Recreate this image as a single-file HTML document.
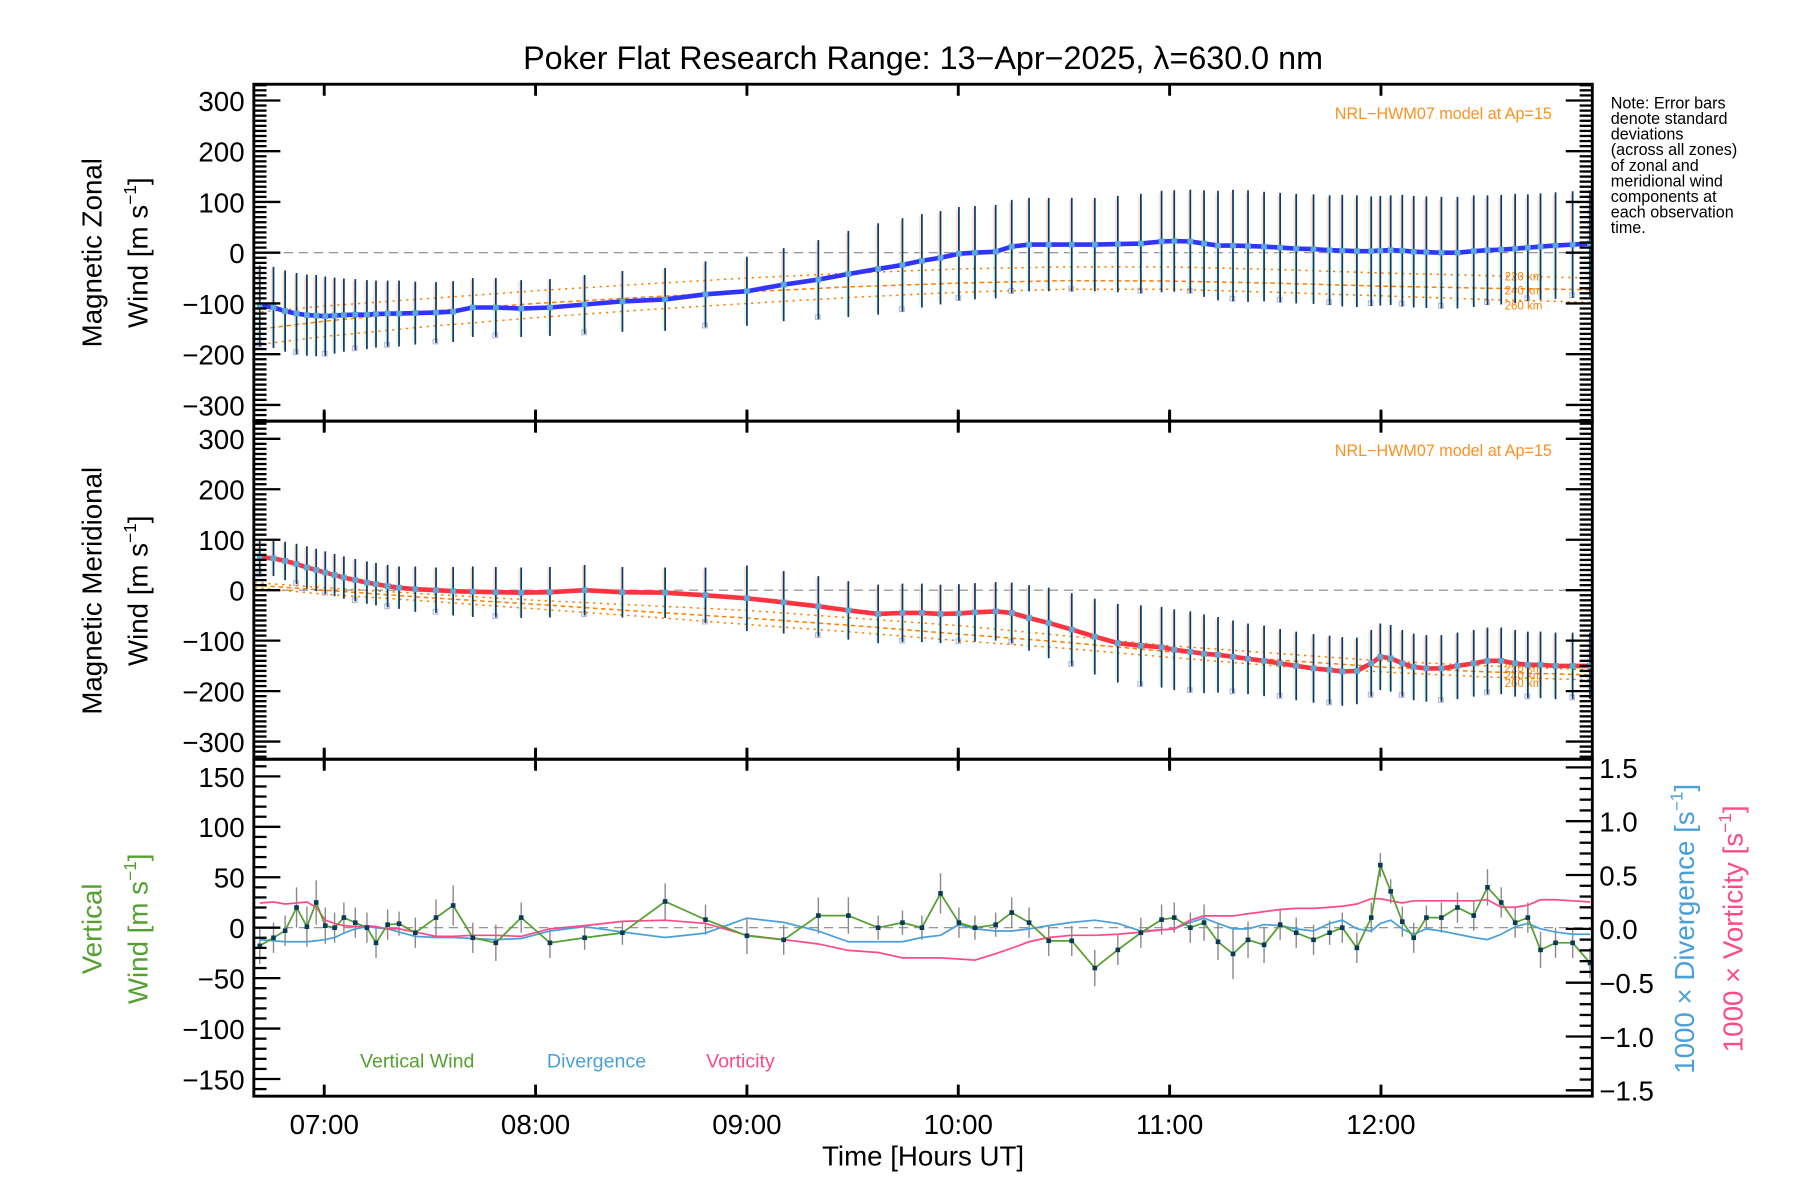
<!DOCTYPE html>
<html><head><meta charset="utf-8"><style>
html,body{margin:0;padding:0;background:#fff}
svg{display:block}
text{font-family:"Liberation Sans",sans-serif}
</style></head><body>
<svg id="chart" width="1800" height="1200" viewBox="0 0 1560 1040" preserveAspectRatio="none" xmlns="http://www.w3.org/2000/svg">
<text x="800" y="60" font-size="28" text-anchor="middle">Poker Flat Research Range: 13−Apr−2025, λ=630.0 nm</text>
<text font-size="14" x="1396" y="94"><tspan x="1396" dy="0">Note: Error bars</tspan><tspan x="1396" dy="13.5">denote standard</tspan><tspan x="1396" dy="13.5">deviations</tspan><tspan x="1396" dy="13.5">(across all zones)</tspan><tspan x="1396" dy="13.5">of zonal and</tspan><tspan x="1396" dy="13.5">meridional wind</tspan><tspan x="1396" dy="13.5">components at</tspan><tspan x="1396" dy="13.5">each observation</tspan><tspan x="1396" dy="13.5">time.</tspan></text>
<g id="layer"></g>
</svg>
<script>
// observation times (decimal hours UT)
const obsTimes=[6.695,6.760,6.815,6.869,6.918,6.962,7.005,7.049,7.093,7.147,7.202,7.245,7.300,7.354,7.431,7.529,7.610,7.703,7.812,7.932,8.068,8.232,8.411,8.613,8.804,9.000,9.174,9.338,9.480,9.621,9.736,9.828,9.916,10.003,10.079,10.177,10.253,10.335,10.428,10.537,10.646,10.755,10.864,10.962,11.022,11.098,11.163,11.229,11.300,11.371,11.447,11.523,11.599,11.681,11.757,11.817,11.886,11.954,11.997,12.046,12.101,12.155,12.215,12.286,12.362,12.439,12.504,12.569,12.635,12.695,12.755,12.826,12.907,12.989];
const zonal=[-105,-108,-115,-120,-123,-124,-125,-124,-123,-122,-122,-121,-120,-120,-119,-118,-116,-108,-108,-110,-108,-102,-96,-92,-82,-76,-63,-53,-42,-32,-24,-16,-10,-2,0,2,12,16,16,16,16,17,18,22,23,22,18,14,14,13,12,10,8,7,5,4,3,3,4,5,4,2,1,0,0,3,5,6,8,10,12,14,16,18];
const zonalErr=[80,80,80,80,80,80,78,75,72,70,68,66,65,65,62,60,60,58,58,56,56,58,60,62,65,68,72,78,85,90,92,92,92,92,92,92,92,92,92,92,92,95,98,100,100,102,105,108,110,110,108,108,108,108,108,110,110,108,108,108,110,110,110,110,110,110,108,108,108,105,105,105,105,105];
const merid=[65,63,58,52,45,40,35,30,25,20,15,12,8,5,2,0,-2,-3,-4,-5,-4,0,-4,-5,-10,-16,-24,-32,-40,-47,-45,-45,-47,-46,-44,-42,-45,-55,-65,-78,-92,-105,-110,-113,-118,-122,-126,-128,-132,-136,-140,-145,-150,-155,-158,-161,-160,-145,-132,-135,-145,-152,-155,-155,-150,-145,-140,-140,-145,-148,-148,-150,-150,-150];
const meridErr=[35,35,38,40,42,42,42,42,42,42,42,42,42,42,45,45,48,50,50,50,50,50,50,50,55,65,62,60,58,58,58,58,58,58,58,58,60,65,70,72,75,78,80,80,80,80,78,75,72,70,70,68,68,68,68,68,66,66,66,66,66,66,66,66,66,66,66,66,66,66,66,66,66,66];
const vert=[-18,-10,-3,20,1,25,2,0,10,5,0,-15,3,4,-5,10,22,-10,-15,10,-15,-10,-5,26,8,-8,-12,12,12,0,5,0,34,5,0,3,15,5,-13,-13,-40,-22,-5,8,10,0,5,-14,-26,-12,-17,3,-5,-12,-5,0,-20,10,62,36,6,-10,10,10,20,12,40,25,5,10,-22,-15,-15,-35];
const vertErr=[18,15,15,20,20,22,18,15,15,15,15,15,15,12,15,18,20,15,18,15,15,12,12,18,15,18,15,18,18,12,12,12,20,15,12,12,15,15,15,15,18,15,15,15,15,15,18,18,25,18,18,15,15,15,12,15,15,15,12,12,15,15,12,15,15,15,18,15,15,15,18,15,15,15];
const diverg=[-0.1,-0.11,-0.12,-0.12,-0.12,-0.11,-0.1,-0.08,-0.04,0,0.02,0.01,0,-0.03,-0.07,-0.08,-0.08,-0.09,-0.1,-0.09,-0.02,0.02,-0.03,-0.08,-0.04,0.1,0.06,-0.02,-0.12,-0.12,-0.12,-0.08,-0.06,0.04,0,-0.02,-0.02,0,0.03,0.06,0.08,0.05,-0.02,-0.01,0,0.06,0.1,0.05,0,0,0.04,0.03,0,-0.02,0.05,0.08,0,-0.02,0.05,0.08,0,-0.05,0,-0.02,-0.05,-0.08,-0.1,-0.05,0.02,0.05,0,-0.03,-0.05,-0.05];
const vortic=[0.24,0.25,0.23,0.24,0.25,0.2,0.08,0.05,0.03,0.02,0.03,0.02,0,0,-0.03,-0.07,-0.07,-0.06,-0.06,-0.07,0,0.03,0.07,0.08,0.05,-0.06,-0.1,-0.14,-0.2,-0.22,-0.27,-0.27,-0.27,-0.28,-0.29,-0.23,-0.18,-0.12,-0.08,-0.06,-0.06,-0.05,-0.03,-0.01,0,0.08,0.12,0.12,0.12,0.14,0.16,0.18,0.19,0.19,0.2,0.21,0.23,0.28,0.28,0.26,0.24,0.26,0.26,0.26,0.26,0.26,0.27,0.2,0.2,0.22,0.27,0.27,0.26,0.25];
const modelTimes=[6.67,7,7.5,8,8.5,9,9.5,10,10.5,11,11.5,12,12.5,13];
const zonal220=[-118,-105,-90,-75,-62,-50,-40,-32,-28,-28,-33,-40,-45,-50];
const zonal240=[-152,-135,-115,-100,-88,-77,-67,-60,-55,-56,-60,-66,-70,-73];
const zonal260=[-182,-165,-145,-128,-113,-100,-88,-78,-72,-72,-78,-85,-92,-98];
const merid220=[15,5,-8,-20,-30,-40,-55,-70,-90,-110,-125,-140,-150,-158];
const merid240=[10,0,-15,-28,-42,-55,-70,-87,-103,-122,-138,-152,-162,-168];
const merid260=[5,-8,-22,-37,-52,-68,-83,-100,-115,-133,-150,-162,-172,-178];
const hourTicks=[7,8,9,10,11,12];
const hourLabels=["07:00","08:00","09:00","10:00","11:00","12:00"];
const windTicks=[-300,-200,-100,0,100,200,300];
const vertTicks=[-150,-100,-50,0,50,100,150];
const rightTicks=[-1.5,-1.0,-0.5,0.0,0.5,1.0,1.5];

const NS='http://www.w3.org/2000/svg';
const L=document.getElementById('layer');
function el(tag,attrs,parent){const e=document.createElementNS(NS,tag);for(const k in attrs)e.setAttribute(k,attrs[k]);(parent||L).appendChild(e);return e;}
const X0=220,X1=1380,T0=6.667,T1=13.0;
const xS=t=>X0+(t-T0)/(T1-T0)*(X1-X0);
const P=[{top:73,bot:365,min:-332,max:332},{top:365,bot:658,min:-335,max:335},{top:658,bot:950,min:-167,max:167}];
const yS=(p,v)=>p.bot-(v-p.min)/(p.max-p.min)*(p.bot-p.top);
const rS=r=>805-r*93.3;
function pts(ts,vs,f){return ts.map((t,i)=>xS(t).toFixed(1)+','+f(vs[i]).toFixed(1)).join(' ');}

// ---------- panels 1 & 2 ----------
[[0,zonal,zonalErr,[zonal220,zonal240,zonal260],'#3333ff','zonal'],[1,merid,meridErr,[merid220,merid240,merid260],'#ff3340','meridional']].forEach(([pi,vals,errs,models,col,nm])=>{
  const p=P[pi];
  const g=el('g',{});
  
  
  const z=el('line',{x1:X0,x2:X1,y1:yS(p,0),y2:yS(p,0),stroke:'#888','stroke-dasharray':'8,5','stroke-width':1},g);
  
  
  obsTimes.forEach((t,i)=>{
    const x=xS(t);
    const top=yS(p,vals[i]+errs[i]*0.95),bot=yS(p,vals[i]-errs[i]*0.95);
    const r1=el('rect',{x:x-2.5,y:top,width:3,height:(bot-top)*0.55,fill:'#ffd0c0',opacity:0.6},g);
    
    
    const r2=el('rect',{x:x-2.5,y:top+(bot-top)*0.55,width:3,height:(bot-top)*0.45,fill:'#dcf5d4',opacity:0.7},g);
    
    
    if(i%3===0){
      const sq=el('rect',{x:x-2.5,y:bot-2,width:4,height:4,fill:'none',stroke:'#b8b8e0','stroke-width':1},g);
      
      
    }
  });
  const mdash=['2,4','4,3','2,4'];
  models.forEach((m,k)=>{
    const pl=el('polyline',{points:pts(modelTimes,m,v=>yS(p,v)),fill:'none',stroke:'#ff8000','stroke-width':1.3,'stroke-dasharray':mdash[k]},g);
    
    
    const lab=el('text',{x:1304,y:yS(p,m[m.length-1])+(k-1)*2+4,'font-size':10,fill:'#ff8000'},g);
    lab.textContent=['220','240','260'][k]+' km';
    
    
  });
  obsTimes.forEach((t,i)=>{
    const x=xS(t);
    const b=el('line',{x1:x,x2:x,y1:yS(p,vals[i]+errs[i]),y2:yS(p,vals[i]-errs[i]),stroke:'#0a3a6a','stroke-width':1.5},g);
    
    
  });
  const ln=el('polyline',{points:pts(obsTimes,vals,v=>yS(p,v)),fill:'none',stroke:col,'stroke-width':4,'stroke-linejoin':'round'},g);
  
  
  obsTimes.forEach((t,i)=>{
    const d=el('rect',{x:xS(t)-2.5,y:yS(p,vals[i])-2.5,width:5,height:5,fill:'#5aaad8'},g);
    
    
  });
  const mt=el('text',{x:1345,y:p.top+30,'font-size':14,fill:'#ff9020','text-anchor':'end'},g);
  mt.textContent='NRL−HWM07 model at Ap=15';
  
  
  for(let v=-330;v<=330;v+=10){
    if(v<p.min||v>p.max)continue;
    const y=yS(p,v),len=(v%100===0)?23:11;
    const a=el('line',{x1:X0,x2:X0+len,y1:y,y2:y,stroke:'#000','stroke-width':2},g);
    
    
    const b=el('line',{x1:X1,x2:X1-len,y1:y,y2:y,stroke:'#000','stroke-width':2},g);
    
    
  }
  windTicks.forEach(v=>{
    const tx=el('text',{x:212,y:yS(p,v)+9,'font-size':24,'text-anchor':'end'},g);
    tx.textContent=v<0?'−'+(-v):String(v);
    
    
  });
});
function vtext(x,y,txt,col,name,size){const t=el('text',{x:x,y:y,'font-size':size||24,'text-anchor':'middle',fill:col,transform:'rotate(-90 '+x+' '+y+')'});t.innerHTML=txt;return t;}
vtext(88,219,'Magnetic Zonal','#000','zonal-y-title');
vtext(128,219,'Wind [m s<tspan font-size="15" dy="-10">−1</tspan><tspan dy="10">]</tspan>','#000','zonal-y-units');
vtext(88,512,'Magnetic Meridional','#000','meridional-y-title');
vtext(128,512,'Wind [m s<tspan font-size="15" dy="-10">−1</tspan><tspan dy="10">]</tspan>','#000','meridional-y-units');

// ---------- panel 3 ----------
(function(){
  const p=P[2];
  const g=el('g',{});
  
  
  const z=el('line',{x1:X0,x2:X1,y1:yS(p,0),y2:yS(p,0),stroke:'#888','stroke-dasharray':'8,5','stroke-width':1},g);
  
  
  obsTimes.forEach((t,i)=>{
    const x=xS(t);
    const b=el('line',{x1:x,x2:x,y1:yS(p,vert[i]+vertErr[i]),y2:yS(p,vert[i]-vertErr[i]),stroke:'#888','stroke-width':1.2},g);
    
    
  });
  const dv=el('polyline',{points:pts(obsTimes,diverg,rS),fill:'none',stroke:'#4aa0d8','stroke-width':1.5},g);
  
  
  const vo=el('polyline',{points:pts(obsTimes,vortic,rS),fill:'none',stroke:'#ff4a88','stroke-width':1.5},g);
  
  
  const vw=el('polyline',{points:pts(obsTimes,vert,v=>yS(p,v)),fill:'none',stroke:'#55a030','stroke-width':1.5},g);
  
  
  obsTimes.forEach((t,i)=>{
    const d=el('rect',{x:xS(t)-2,y:yS(p,vert[i])-2,width:4,height:4,fill:'#0a3a5a'},g);
    
    
  });
  for(let v=-160;v<=160;v+=10){
    const y=yS(p,v),len=(v%50===0)?23:11;
    const a=el('line',{x1:X0,x2:X0+len,y1:y,y2:y,stroke:'#000','stroke-width':2},g);
    
    
  }
  for(let k=-15;k<=15;k++){
    const r=k/10,y=rS(r);
    if(y<p.top||y>p.bot)continue;
    const len=(k%5===0)?23:11;
    const a=el('line',{x1:X1,x2:X1-len,y1:y,y2:y,stroke:'#000','stroke-width':2},g);
    
    
  }
  vertTicks.forEach(v=>{
    const tx=el('text',{x:212,y:yS(p,v)+9,'font-size':24,'text-anchor':'end'},g);
    tx.textContent=v<0?'−'+(-v):String(v);
    
    
  });
  rightTicks.forEach(r=>{
    const tx=el('text',{x:1386,y:rS(r)+9,'font-size':24},g);
    tx.textContent=(r<0?'−':'')+Math.abs(r).toFixed(1);
    
    
  });
  [['Vertical Wind','#55a030',312],['Divergence','#4aa0d8',474],['Vorticity','#ff4a88',612]].forEach(([s,c,x])=>{
    const t=el('text',{x:x,y:925,'font-size':17,fill:c},g);
    t.textContent=s;
    
    
  });
})();
vtext(88,805,'Vertical','#55a030','vertical-y-title');
vtext(128,805,'Wind [m s<tspan font-size="15" dy="-10">−1</tspan><tspan dy="10">]</tspan>','#55a030','vertical-y-units');
vtext(1468,805,'1000 × Divergence [s<tspan font-size="15" dy="-10">−1</tspan><tspan dy="10">]</tspan>','#4aa0d8','divergence-axis-title');
vtext(1510,805,'1000 × Vorticity [s<tspan font-size="15" dy="-10">−1</tspan><tspan dy="10">]</tspan>','#ff4a88','vorticity-axis-title');

P.forEach((p,i)=>{
  const r=el('rect',{x:X0,y:p.top,width:X1-X0,height:p.bot-p.top,fill:'none',stroke:'#000','stroke-width':2.5});
  
  
  hourTicks.forEach(h=>{
    const x=xS(h);
    const a=el('line',{x1:x,x2:x,y1:p.top-(i===0?0:8),y2:p.top+10,stroke:'#000','stroke-width':2.5});
    
    
    const b=el('line',{x1:x,x2:x,y1:p.bot-10,y2:p.bot+(i===2?0:8),stroke:'#000','stroke-width':2.5});
    
    
  });
});
hourTicks.forEach((h,i)=>{
  const t=el('text',{x:xS(h),y:983,'font-size':24,'text-anchor':'middle'});
  t.textContent=hourLabels[i];
  
  
});
const xt=el('text',{x:800,y:1010,'font-size':24,'text-anchor':'middle'});
xt.textContent='Time [Hours UT]';


</script>
</body></html>
